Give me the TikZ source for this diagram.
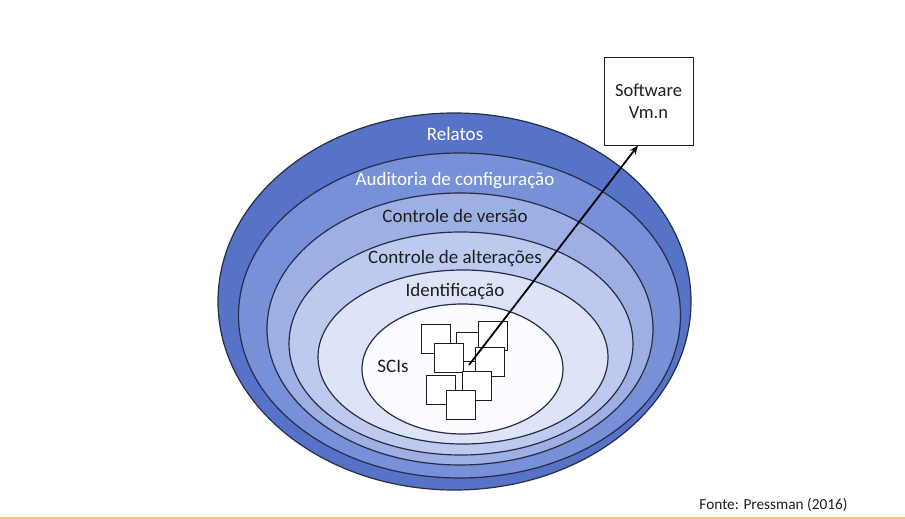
\documentclass[tikz,border=0pt]{standalone}
\usepackage{fontspec}
\setmainfont{Carlito}
\usetikzlibrary{arrows.meta}
\definecolor{ringA}{RGB}{86,115,200}
\definecolor{ringB}{RGB}{120,144,215}
\definecolor{ringC}{RGB}{158,175,228}
\definecolor{ringD}{RGB}{190,201,239}
\definecolor{ringE}{RGB}{221,228,248}
\definecolor{ringF}{RGB}{251,252,255}
\definecolor{edgeC}{RGB}{40,44,70}
\definecolor{txtC}{RGB}{30,30,30}
\definecolor{orangeC}{RGB}{250,196,120}
\tikzset{
  ring/.style={draw=edgeC, line width=1.2pt},
  lbl/.style={font=\fontsize{19}{21}\selectfont, text=txtC, inner sep=0pt},
  wlbl/.style={lbl, text=white},
  sci/.style={draw=txtC, fill=white, line width=0.8pt, minimum width=29pt, minimum height=29pt, inner sep=0pt},
  swbox/.style={draw=txtC, fill=white, line width=0.9pt, minimum width=89pt, minimum height=88pt, align=center, font=\fontsize{18.5}{22}\selectfont, text=txtC},
  conn/.style={line width=1.8pt, -{Stealth[length=9pt,width=7pt]}}
}
\begin{document}
\begin{tikzpicture}[x=1pt,y=-1pt]
\useasboundingbox (0,0) rectangle (905,519);
\fill[white] (0,0) rectangle (905,519);
% nested ellipses
\filldraw[ring, fill=ringA] (454.5,301.5) ellipse [x radius=236.5pt, y radius=188.5pt];
\filldraw[ring, fill=ringB] (459.5,315.5) ellipse [x radius=221pt, y radius=162.5pt];
\filldraw[ring, fill=ringC] (460,329) ellipse [x radius=193pt, y radius=136pt];
\filldraw[ring, fill=ringD] (461,343.5) ellipse [x radius=172pt, y radius=111.5pt];
\filldraw[ring, fill=ringE] (463,357) ellipse [x radius=145pt, y radius=87pt];
\filldraw[ring, fill=ringF] (462.5,369) ellipse [x radius=100.5pt, y radius=65pt];
% labels
\node[wlbl] (relatos) at (455,134) {Relatos};
\node[wlbl] (audit) at (455,181) {Auditoria de configuração};
\node[lbl] (versao) at (455,216) {Controle de versão};
\node[lbl] (alter) at (455,258) {Controle de alterações};
\node[lbl] (ident) at (455,291) {Identificação};
\node[lbl] (scis) at (393,366) {SCIs};
% SCI squares
\node[sci] (s1) at (436,338.5) {};
\node[sci] (s2) at (471,346.5) {};
\node[sci] (s3) at (492.5,335.5) {};
\node[sci] (s4) at (449,358) {};
\node[sci] (s5) at (489.5,362) {};
\node[sci] (s6) at (477,386) {};
\node[sci] (s7) at (441,390) {};
\node[sci] (s8) at (460.5,405) {};
% software box
\node[swbox] (sw) at (648.5,101) {Software\\Vm.n};
% arrow
\coordinate (src) at (469,365);
\coordinate (dst) at (638,145.5);
\draw[conn] (src) -- (dst);
% source
\node[font=\fontsize{15.3}{17}\selectfont, text=txtC, inner sep=0pt] (fonte) at (773.5,505) {Fonte: Pressman (2016)};
\coordinate (la) at (0,517.5);
\coordinate (lb) at (905,517.5);
\draw[orangeC, line width=2pt] (la) -- (lb);
\end{tikzpicture}
\end{document}
